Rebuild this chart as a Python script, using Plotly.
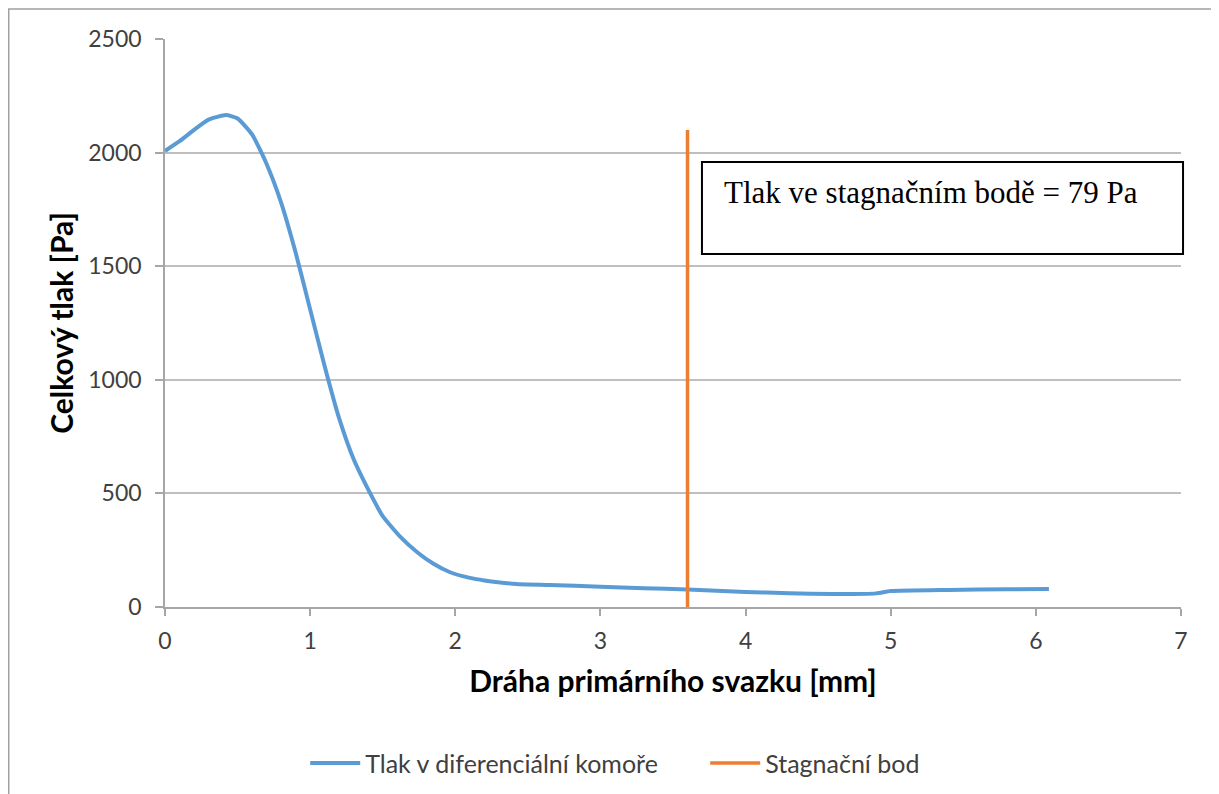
import plotly.graph_objects as go

# Data
x_mm = [0, 0.1, 0.2, 0.3, 0.42, 0.5, 0.6, 0.7, 0.8, 0.9, 1.0, 1.1, 1.2, 1.3, 1.43,
        1.5, 1.62, 1.74, 1.85, 1.96, 2.1, 2.2, 2.42, 2.65, 3.0, 3.3, 3.6, 4.0, 4.3,
        4.6, 4.9, 5.0, 5.4, 5.8, 6.09]
p_pa = [2007, 2050, 2100, 2145, 2165, 2150, 2080, 1950, 1780, 1560, 1310, 1060, 830,
        650, 480, 400, 310, 240, 190, 154, 128, 117, 101, 97, 89, 83, 77, 66, 61,
        57, 60, 70, 75, 78, 79]

stag_x = [3.6, 3.6]
stag_y = [0, 2100]

series_names = ["Tlak v diferenciální komoře", "Stagnační bod"]
annot_text = "Tlak ve stagnačním bodě = 79 Pa"

x_ticks = [0, 1, 2, 3, 4, 5, 6, 7]
y_ticks = [0, 500, 1000, 1500, 2000, 2500]

fig = go.Figure()
fig.add_trace(go.Scatter(x=x_mm, y=p_pa, mode="lines", name=series_names[0],
                         line=dict(color="#5B9BD5", width=4, shape="spline", smoothing=0.5)))
fig.add_trace(go.Scatter(x=stag_x, y=stag_y, mode="lines", name=series_names[1],
                         line=dict(color="#ED7D31", width=3.5)))

font_main = "Lato, 'Open Sans', sans-serif"
fig.update_layout(
    width=1211, height=786,
    margin=dict(l=157, r=38, t=31, b=187, autoexpand=False),
    paper_bgcolor="white", plot_bgcolor="white",
    font=dict(family=font_main, color="#404040"),
    showlegend=True,
    legend=dict(orientation="h", x=0.138, xanchor="left", y=-0.275, yanchor="middle",
                font=dict(size=25, color="#404040"), itemwidth=50, tracegroupgap=0,
                entrywidth=335, entrywidthmode="pixels"),
    xaxis=dict(range=[0, 7], tickvals=x_ticks, showgrid=False, zeroline=False,
               showline=True, linecolor="#a6a6a6", linewidth=1.5,
               ticks="outside", ticklen=7, tickcolor="#a6a6a6", tickwidth=1.5,
               ticklabelstandoff=6,
               tickfont=dict(size=23, color="#404040"),
               title=dict(text="<b>Dráha primárního svazku [mm]</b>",
                          font=dict(size=30, color="black"), standoff=18)),
    yaxis=dict(range=[0, 2500], tickvals=y_ticks, showgrid=True, gridcolor="#bfbfbf",
               gridwidth=1.5, zeroline=False,
               showline=True, linecolor="#a6a6a6", linewidth=1.5,
               ticks="outside", ticklen=8, tickcolor="#a6a6a6", tickwidth=1.5,
               ticklabelstandoff=9,
               tickfont=dict(size=23, color="#404040"),
               title=dict(text="<b>Celkový tlak [Pa]</b>",
                          font=dict(size=30, color="black"), standoff=6)),
)

# Outer chart border
fig.add_shape(type="rect", xref="paper", yref="paper",
              x0=-0.1538, x1=1.0344, y0=-0.36, y1=1.0528,
              line=dict(color="#a0a0a0", width=1.5), fillcolor="rgba(0,0,0,0)", layer="below")

# Text box
fig.add_shape(type="rect", xref="paper", yref="paper",
              x0=0.5285, x1=1.002, y0=0.6215, y1=0.7835,
              line=dict(color="black", width=2), fillcolor="white", layer="above")
fig.add_annotation(xref="paper", yref="paper", x=0.548, y=0.7306, xanchor="left",
                   yanchor="middle", showarrow=False, text=annot_text,
                   font=dict(family="'Liberation Serif', 'Times New Roman', serif",
                             size=31, color="black"))

fig.write_html("out.html")
